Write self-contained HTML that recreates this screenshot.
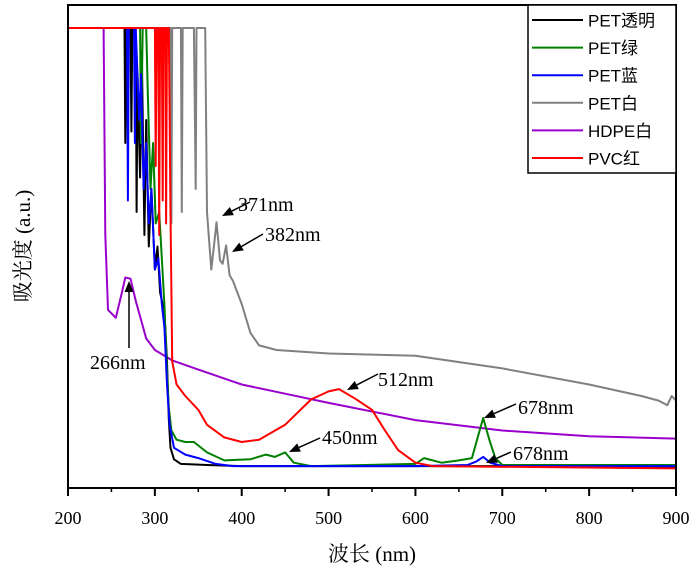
<!DOCTYPE html>
<html><head><meta charset="utf-8">
<style>
body{margin:0;background:#fff;}
svg text{font-family:"Liberation Serif","Noto Serif CJK SC",serif;fill:#000;}
svg text.leg{font-family:"Liberation Sans","Noto Sans CJK SC",sans-serif;}
</style></head>
<body>
<svg id="chart" width="695" height="574" viewBox="0 0 695 574" xmlns="http://www.w3.org/2000/svg">
<g id="plot"></g>
<rect x="68" y="5" width="608" height="483" fill="none" stroke="#000" stroke-width="2"/>
<g id="axis"></g>
<text x="372" y="561" font-size="21" text-anchor="middle">波长 (nm)</text>
<text transform="translate(30,246) rotate(-90)" font-size="21" text-anchor="middle">吸光度 (a.u.)</text>
<g id="ann"></g>
<g id="legend">
<rect x="528" y="5" width="148" height="168" fill="#fff" stroke="#000" stroke-width="1.5"/>
</g>
</svg>
<script>
const xTicks=[200,300,400,500,600,700,800,900];
const xMinor=[250,350,450,550,650,750,850];
const seriesNames=["PET透明","PET绿","PET蓝","PET白","HDPE白","PVC红"];
const seriesColors=["#000000","#008000","#0000ff","#808080","#9900cc","#ff0000"];
const petClear=[[200,4],[265,4],[266,3.0],[267,4],[272,4],[273,3.1],[274,4],[278,4],[279,2.4],[280,3.6],[283,2.7],[285,3.8],[288,2.2],[290,3.2],[293,2.1],[296,2.6],[300,1.9],[303,2.1],[306,1.7],[309,1.6],[312,1.4],[314,1.1],[316,0.6],[318,0.35],[322,0.25],[330,0.21],[360,0.2],[400,0.19],[600,0.19],[700,0.19],[900,0.18]];
const petGreen=[[200,4],[283,4],[284,3.0],[286,4],[290,4],[292,3.4],[295,2.6],[298,3.0],[301,2.3],[305,2.4],[308,2.0],[311,1.6],[314,1.0],[316,0.7],[319,0.5],[325,0.42],[335,0.4],[345,0.4],[360,0.31],[380,0.24],[410,0.25],[428,0.29],[438,0.27],[450,0.31],[460,0.22],[480,0.19],[600,0.21],[610,0.26],[630,0.22],[650,0.24],[665,0.26],[672,0.45],[678,0.61],[685,0.42],[692,0.26],[700,0.2],[900,0.2]];
const petBlue=[[200,4],[268,4],[269,2.5],[270,4],[276,4],[277,3.0],[278,4],[282,3.2],[284,3.6],[287,2.6],[290,3.0],[293,2.3],[296,2.6],[300,1.9],[304,2.0],[308,1.6],[311,1.4],[314,0.9],[317,0.55],[322,0.35],[335,0.29],[350,0.26],[370,0.21],[390,0.19],[600,0.19],[660,0.2],[670,0.23],[678,0.27],[686,0.22],[700,0.19],[900,0.19]];
const petWhite=[[200,4],[318,4],[319,2.3],[320,4],[330,4],[331,2.4],[332,4],[345,4],[347,2.6],[348,4],[358,4],[360,2.4],[362,2.2],[365,1.9],[368,2.1],[371,2.31],[375,1.98],[378,1.95],[382,2.11],[386,1.85],[390,1.8],[400,1.6],[410,1.35],[420,1.24],[440,1.2],[500,1.17],[600,1.15],[700,1.04],[800,0.9],[860,0.8],[880,0.76],[890,0.72],[895,0.8],[900,0.76]];
const hdpeWhite=[[200,4],[241,4],[243,2.2],[246,1.55],[255,1.48],[262,1.7],[266,1.83],[272,1.82],[278,1.63],[290,1.3],[300,1.2],[320,1.11],[350,1.03],[400,0.9],[450,0.82],[500,0.74],[600,0.59],[700,0.5],[800,0.45],[900,0.43]];
const pvcRed=[[200,4],[300,4],[301,2.8],[302,4],[304,4],[305,2.2],[306,4],[308,4],[309,2.5],[310,4],[312,4],[313,2.3],[314,4],[316,4],[318,2.4],[320,1.1],[325,0.9],[335,0.8],[350,0.68],[360,0.55],[380,0.44],[400,0.4],[420,0.42],[450,0.55],[480,0.77],[500,0.84],[512,0.86],[530,0.78],[550,0.68],[565,0.5],[580,0.33],[600,0.22],[620,0.19],[900,0.17]];
const allSeries=[petClear,petGreen,petBlue,petWhite,hdpeWhite,pvcRed];
const annLabels=["371nm","382nm","266nm","512nm","450nm","678nm","678nm"];
const NS="http://www.w3.org/2000/svg";
function xs(nm){return 68+(nm-200)*608/700;}
function ys(v){return 488-v*115;}
const plot=document.getElementById('plot');
const drawOrder=[3,4,0,1,2,5];
drawOrder.forEach(i=>{
 const p=document.createElementNS(NS,'path');
 
 
 p.setAttribute('d',allSeries[i].map((d,k)=>(k?'L':'M')+xs(d[0]).toFixed(1)+' '+ys(d[1]).toFixed(1)).join(''));
 p.setAttribute('fill','none');p.setAttribute('stroke',seriesColors[i]);p.setAttribute('stroke-width','2');p.setAttribute('stroke-linejoin','round');
 plot.appendChild(p);
});
const axis=document.getElementById('axis');
xTicks.forEach(t=>{
 const l=document.createElementNS(NS,'line');
 
 
 l.setAttribute('x1',xs(t));l.setAttribute('x2',xs(t));l.setAttribute('y1',488);l.setAttribute('y2',496);l.setAttribute('stroke','#000');l.setAttribute('stroke-width','2');
 axis.appendChild(l);
 const tx=document.createElementNS(NS,'text');
 
 
 tx.setAttribute('x',xs(t));tx.setAttribute('y',524);tx.setAttribute('font-size','18');tx.setAttribute('text-anchor','middle');
 tx.textContent=t;axis.appendChild(tx);
});
xMinor.forEach(t=>{
 const l=document.createElementNS(NS,'line');
 
 
 l.setAttribute('x1',xs(t));l.setAttribute('x2',xs(t));l.setAttribute('y1',488);l.setAttribute('y2',492);l.setAttribute('stroke','#000');l.setAttribute('stroke-width','1.5');
 axis.appendChild(l);
});
const annPos=[[238,211,250,202,222,216],[265,241,263,234,232,252],[90,369,129,348,129,281],[378,386,378,374,347,390],[322,444,320,438,289,452],[518,414,516,404,484,418],[513,460,511,452,486,463]];
const ann=document.getElementById('ann');
annLabels.forEach((s,i)=>{
 const a=annPos[i];
 const t=document.createElementNS(NS,'text');
 
 
 t.setAttribute('x',a[0]);t.setAttribute('y',a[1]);t.setAttribute('font-size','20');t.textContent=s;ann.appendChild(t);
 const dx=a[4]-a[2],dy=a[5]-a[3],L=Math.hypot(dx,dy),ux=dx/L,uy=dy/L;
 const bx=a[4]-ux*11,by=a[5]-uy*11;
 const l=document.createElementNS(NS,'line');
 
 
 l.setAttribute('x1',a[2]);l.setAttribute('y1',a[3]);l.setAttribute('x2',bx);l.setAttribute('y2',by);l.setAttribute('stroke','#000');l.setAttribute('stroke-width','1.5');
 ann.appendChild(l);
 const h=document.createElementNS(NS,'polygon');
 
 
 h.setAttribute('points',`${a[4]},${a[5]} ${bx-uy*4.5},${by+ux*4.5} ${bx+uy*4.5},${by-ux*4.5}`);
 ann.appendChild(h);
});
const leg=document.getElementById('legend');
seriesNames.forEach((n,i)=>{
 const y=20+i*27.6;
 const l=document.createElementNS(NS,'line');
 
 
 l.setAttribute('x1',532);l.setAttribute('x2',583);l.setAttribute('y1',y);l.setAttribute('y2',y);l.setAttribute('stroke',seriesColors[i]);l.setAttribute('stroke-width','2');
 leg.appendChild(l);
 const t=document.createElementNS(NS,'text');
 
 
 t.setAttribute('class','leg');
 t.setAttribute('x',588);t.setAttribute('y',y+6.5);t.setAttribute('font-size','17');t.textContent=n;leg.appendChild(t);
});
</script>
</body></html>
